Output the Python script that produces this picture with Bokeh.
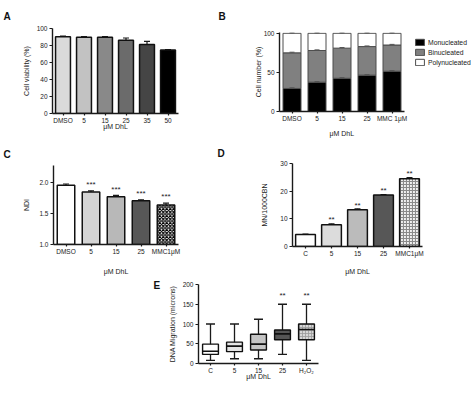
from bokeh.plotting import figure
from bokeh.models import (ColumnDataSource, FactorRange, Range1d, FixedTicker, Whisker,
                          TeeHead, Legend, LegendItem, Title, PrintfTickFormatter)
from bokeh.layouts import column, row
from bokeh.embed import file_html
from bokeh.resources import INLINE
from bokeh.core.properties import value

FONT = "Liberation Sans"
XLABEL = "μM DhL"

# ---------------- Panel A ----------------
a_cats = ["DMSO", "5", "15", "25", "35", "50"]
a_vals = [90.2, 89.6, 89.6, 86.3, 81.3, 74.6]
a_errs = [0.8, 0.8, 0.8, 2.5, 3.5, 0.6]
a_cols = ["#dadada", "#c2c2c2", "#898989", "#6b6b6b", "#454545", "#000000"]

# ---------------- Panel B ----------------
b_cats = ["DMSO", "5", "15", "25", "MMC 1μM"]
b_mono = [29.5, 37.5, 42.5, 46.5, 51.5]
b_bi = [45.5, 40.5, 38.5, 36.5, 33.5]
b_poly = [25.0, 22.0, 19.0, 17.0, 15.0]
b_err = [0.8, 0.8, 0.8, 0.8, 0.8]
b_labels = ["Monucleated", "Binucleated", "Polynucleated"]
b_cols = ["#000000", "#808080", "#ffffff"]

# ---------------- Panel C ----------------
c_cats = ["DMSO", "5", "15", "25", "MMC1μM"]
c_vals = [1.96, 1.85, 1.775, 1.71, 1.64]
c_errs = [0.02, 0.02, 0.02, 0.015, 0.03]
c_stars = ["", "***", "***", "***", "***"]
c_cols = ["#ffffff", "#d4d4d4", "#b8b8b8", "#575757", "#ffffff"]
c_hatch = [" ", " ", " ", " ", "x"]

# ---------------- Panel D ----------------
d_cats = ["C", "5", "15", "25", "MMC1μM"]
d_vals = [4.3, 7.9, 13.3, 18.6, 24.5]
d_errs = [0.2, 0.3, 0.3, 0.2, 0.4]
d_stars = ["", "**", "**", "**", "**"]
d_cols = ["#ffffff", "#dcdcdc", "#bbbbbb", "#575757", "#f0f0f0"]
d_hatch = [" ", " ", " ", " ", "+"]

# ---------------- Panel E ----------------
e_cats = ["C", "5", "15", "25", "H₂O₂"]
e_min = [8, 12, 12, 23, 8]
e_q1 = [23, 30, 34, 60, 60]
e_med = [31, 44, 49, 75, 86]
e_q3 = [49, 54, 74, 85, 100]
e_max = [100, 100, 112, 150, 150]
e_stars = ["", "", "", "**", "**"]
e_cols = ["#ffffff", "#e4e4e4", "#c4c4c4", "#555555", "#d6d6d6"]
e_hatch = [" ", " ", " ", " ", "+"]


def base_fig(xr, yr, w, h, bl, br, bt, bb):
    p = figure(width=w, height=h, x_range=xr, y_range=Range1d(*yr), output_backend="svg",
               toolbar_location=None, min_border_left=bl, min_border_right=br,
               min_border_top=bt, min_border_bottom=bb, frame_align=False)
    p.xgrid.visible = False
    p.ygrid.visible = False
    p.outline_line_color = None
    return p


def make_fig(cats, yr, w, h, bl, br, bt, bb):
    return base_fig(FactorRange(factors=cats, range_padding=0), yr, w, h, bl, br, bt, bb)


def style(p, xlabel, ylabel, yticks, xstand, ystand):
    for ax in (p.xaxis[0], p.yaxis[0]):
        ax.axis_line_width = 1.4
        ax.axis_line_color = "#1a1a1a"
        ax.major_tick_line_width = 1.2
        ax.major_tick_line_color = "#1a1a1a"
        ax.major_tick_in = 0
        ax.minor_tick_line_color = None
        ax.major_label_text_font = FONT
        ax.major_label_text_font_size = "6.5px"
        ax.major_label_text_color = "#1a1a1a"
        ax.axis_label_text_font = FONT
        ax.axis_label_text_font_size = "7px"
        ax.axis_label_text_font_style = "normal"
        ax.axis_label_text_color = "#1a1a1a"
    p.xaxis[0].major_tick_out = 2
    p.xaxis[0].major_label_standoff = 1
    p.yaxis[0].major_tick_out = 3
    p.yaxis[0].major_label_standoff = 2
    if xlabel:
        p.xaxis[0].axis_label = xlabel
        p.xaxis[0].axis_label_standoff = xstand
    p.yaxis[0].axis_label = ylabel
    p.yaxis[0].axis_label_standoff = ystand
    p.yaxis[0].ticker = FixedTicker(ticks=yticks)


def letter_title(p, t, offset, standoff, valign="bottom"):
    p.add_layout(Title(text=t, align="left", offset=offset, standoff=standoff,
                       vertical_align=valign,
                       text_font=FONT, text_font_style="bold", text_font_size="10px",
                       text_color="#111111"), "above")


def bars(p, cats, vals, errs, cols, hatch=None, width=0.72, hscale=4.0, hcolor="black"):
    src = ColumnDataSource(dict(x=cats, val=vals, up=[v + e for v, e in zip(vals, errs)],
                                col=cols, hatch=hatch if hatch else [" "] * len(cats)))
    p.add_layout(Whisker(source=src, base="x", upper="up", lower="val", line_width=1.2,
                         line_color="#1a1a1a", lower_head=None,
                         upper_head=TeeHead(size=6, line_width=1.2, line_color="#1a1a1a")))
    p.vbar(x="x", top="val", width=width, source=src, fill_color="col", line_color="#111111",
           line_width=1.5, hatch_pattern="hatch", hatch_scale=hscale, hatch_weight=1.2,
           hatch_color=hcolor)
    return src


def stars(p, cats, ys, labels):
    src = ColumnDataSource(dict(x=cats, y=ys, t=labels))
    p.text(x="x", y="y", text="t", source=src, text_font=value(FONT),
           text_font_size=value("8px"), text_align="center", text_baseline="middle",
           text_color="#1a1a1a")


# ---- A ----  canvas x 0..215, y 0..140
pA = make_fig(a_cats, (0, 100), 215, 140, 52, 37, 28, 27)
bars(pA, a_cats, a_vals, a_errs, a_cols, width=0.71)
style(pA, XLABEL, "Cell viability (%)", [0, 20, 40, 60, 80, 100], -4, 4)
letter_title(pA, "A", -49, 14)

# ---- B ----  canvas x 215..472, y 0..140 ; numeric x so the legend fits inside the frame
b_x = [i + 0.5 for i in range(len(b_cats))]
pB = base_fig(Range1d(0, 7.72), (0, 101), 257, 140, 64, 0, 32, 28)
srcB = ColumnDataSource(dict(x=b_x, mono=b_mono, bi=b_bi, poly=b_poly,
                             m_top=b_mono,
                             b_top=[m + b for m, b in zip(b_mono, b_bi)],
                             p_top=[m + b + q for m, b, q in zip(b_mono, b_bi, b_poly)],
                             m_up=[m + e for m, e in zip(b_mono, b_err)],
                             b_up=[m + b + e for m, b, e in zip(b_mono, b_bi, b_err)],
                             p_up=[m + b + q + e * 0.6 for m, b, q, e in zip(b_mono, b_bi, b_poly, b_err)]))
for lo, up in (("m_top", "m_up"), ("b_top", "b_up"), ("p_top", "p_up")):
    pB.add_layout(Whisker(source=srcB, base="x", upper=up, lower=lo, line_width=1,
                          line_color="#555555", lower_head=None,
                          upper_head=TeeHead(size=5, line_width=1, line_color="#555555"),
                          level="overlay"))
rs = pB.vbar_stack(["mono", "bi", "poly"], x="x", width=0.72, source=srcB,
                   fill_color=b_cols, line_color="#4d4d4d", line_width=1)
style(pB, None, "Cell number (%)", [0, 50, 100], 0, -1)
pB.xaxis[0].ticker = FixedTicker(ticks=b_x)
pB.xaxis[0].major_label_overrides = {x: c for x, c in zip(b_x, b_cats)}
pB.xaxis[0].bounds = (0, len(b_cats))
pB.add_layout(Title(text=XLABEL, align="left", offset=50, standoff=7,
                    text_font=FONT, text_font_style="normal", text_font_size="7px",
                    text_color="#1a1a1a"), "below")
leg = Legend(items=[LegendItem(label=b_labels[i], renderers=[rs[i]]) for i in range(3)],
             location=(135, 45), padding=0, margin=0, spacing=2, glyph_width=11,
             glyph_height=8, label_height=8, label_standoff=3,
             label_text_font=FONT, label_text_font_size="6.8px",
             label_text_color="#1a1a1a", border_line_alpha=0, background_fill_alpha=0)
pB.add_layout(leg)
letter_title(pB, "B", -61, 18, "top")

# ---- C ----  canvas x 0..215, y 140..277
pC = make_fig(c_cats, (1.0, 2.28), 215, 137, 53, 37, 25, 30)
bars(pC, c_cats, c_vals, c_errs, c_cols, c_hatch, width=0.7, hscale=3.5)
stars(pC, c_cats, [v + e + 0.1 for v, e in zip(c_vals, c_errs)], c_stars)
style(pC, XLABEL, "NDI", [1.0, 1.5, 2.0], 10, 6)
pC.yaxis[0].formatter = PrintfTickFormatter(format="%.1f")
letter_title(pC, "C", -50, 11)

# ---- D ----  canvas x 215..472, y 140..277
pD = make_fig(d_cats, (0, 30), 257, 137, 77, 50, 23, 30)
bars(pD, d_cats, d_vals, d_errs, d_cols, d_hatch, width=0.76, hscale=3.0, hcolor="#8a8a8a")
stars(pD, d_cats, [v + e + 1.4 for v, e in zip(d_vals, d_errs)], d_stars)
style(pD, XLABEL, "MN/1000CBN", [0, 10, 20, 30], 8, 9)
letter_title(pD, "D", -75, 9)

# ---- E ----  canvas y 277..393
pEL = figure(width=165, height=116, output_backend="svg", toolbar_location=None,
             x_range=Range1d(0, 1), y_range=Range1d(0, 1),
             x_axis_location=None, y_axis_location=None, frame_align=False,
             min_border_left=0, min_border_right=0, min_border_top=10, min_border_bottom=0)
pEL.xgrid.visible = False
pEL.ygrid.visible = False
pEL.outline_line_color = None
letter_title(pEL, "E", 153, 0)

pE = make_fig(e_cats, (0, 200), 307, 116, 32, 154, 7, 30)
srcE = ColumnDataSource(dict(x=e_cats, mn=e_min, q1=e_q1, med=e_med, q3=e_q3, mx=e_max,
                             col=e_cols, hatch=e_hatch))
pE.add_layout(Whisker(source=srcE, base="x", upper="mx", lower="mn", line_width=1.3,
                      line_color="#1a1a1a",
                      upper_head=TeeHead(size=9, line_width=1.3, line_color="#1a1a1a"),
                      lower_head=TeeHead(size=9, line_width=1.3, line_color="#1a1a1a")))
pE.vbar(x="x", top="q3", bottom="q1", width=0.66, source=srcE, fill_color="col",
        line_color="#111111", line_width=1.4, hatch_pattern="hatch", hatch_scale=3.0,
        hatch_weight=0.8, hatch_color="#9a9a9a")
pE.vbar(x="x", top="med", bottom="med", width=0.66, source=srcE, fill_color=None,
        line_color="#111111", line_width=1.6)
stars(pE, e_cats, [172] * len(e_cats), e_stars)
style(pE, XLABEL, "DNA Migration (microns)", [0, 50, 100, 150, 200], -4, 4)

layout = column(row(pA, pB), row(pC, pD), row(pEL, pE))
open("out.html", "w").write(file_html(layout, INLINE))
